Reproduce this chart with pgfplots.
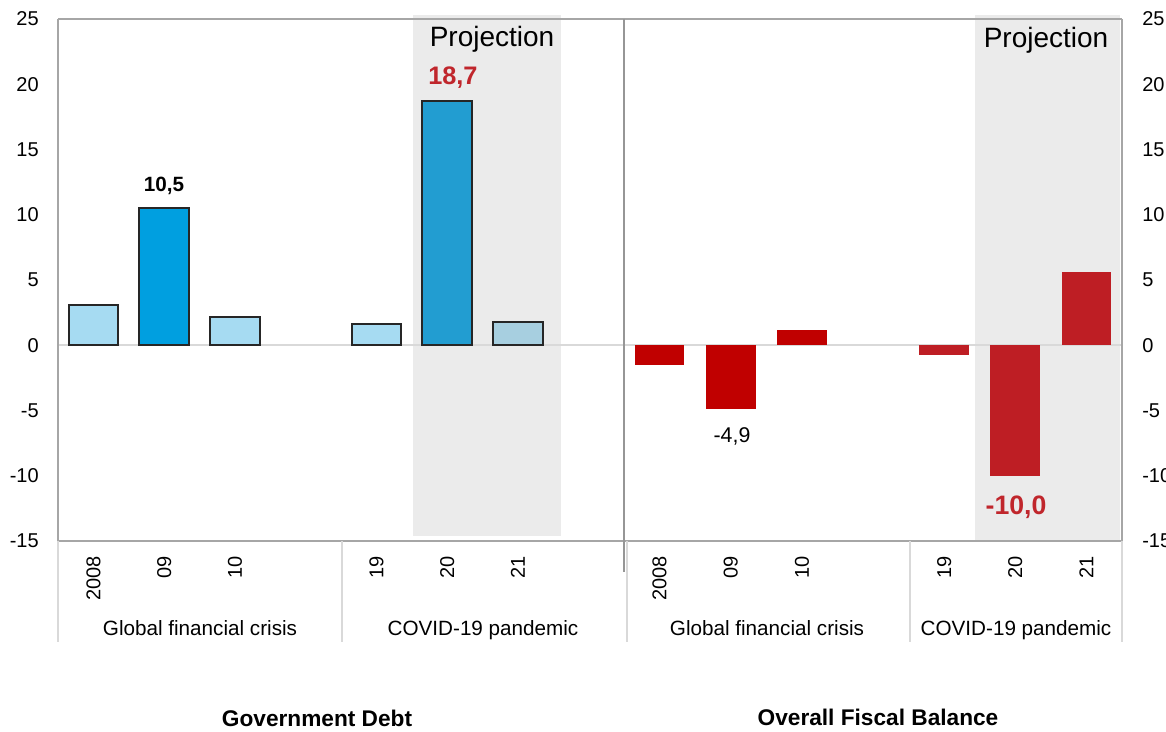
\documentclass[border=0pt]{standalone}
\usepackage{fontspec}
\setmainfont{Liberation Sans}
\usepackage{pgfplots}
\pgfplotsset{compat=1.18}
\definecolor{lblue}{RGB}{166,219,242}
\definecolor{mblue}{RGB}{0,159,224}
\definecolor{pblue}{RGB}{34,157,209}
\definecolor{gblue}{RGB}{167,207,224}
\definecolor{dred}{RGB}{192,0,0}
\definecolor{pred}{RGB}{190,30,36}
\definecolor{tred}{RGB}{192,38,44}
\definecolor{shadecol}{RGB}{235,235,235}
\definecolor{spine}{RGB}{166,166,166}
\definecolor{divid}{RGB}{150,150,150}
\definecolor{sep}{RGB}{217,217,217}
\definecolor{edge}{RGB}{38,38,38}
\pgfplotsset{
  panel/.style={
    scale only axis, height=391.5pt, ymin=-15, ymax=25,
    axis line style={draw=none}, major tick length=0pt,
    ytick={-15,-10,...,25}, yticklabels={-15,-10,-5,0,5,10,15,20,25},
    xtick={0,1,2,4,5,6}, xticklabels={2008,09,10,19,20,21},
    xtick pos=left,
    xticklabel style={rotate=90, anchor=east, inner sep=0pt},
    xticklabel shift=11.25pt,
    ticklabel style={font=\fontsize{15}{18}\selectfont, text=black},
    clip=false,
  },
  bb/.style={ybar, bar width=0.7, bar shift=0pt},
}
\begin{document}
\begin{tikzpicture}
\useasboundingbox (0pt,0pt) rectangle (874.5pt,548.25pt);
\clip (0pt,0pt) rectangle (874.5pt,548.25pt);
\begin{scope}[x=0.75pt,y=0.75pt]
\fill[shadecol] (413,195) rectangle (561,716);
\fill[shadecol] (975,190) rectangle (1120,716);
\draw[sep, line width=1.5pt] (58,386) -- (1122,386);
\end{scope}

\begin{axis}[panel, at={(43.5pt,142.5pt)}, anchor=south west, width=424.5pt,
  xmin=-0.5, xmax=7.5,
  ytick pos=left, yticklabel style={anchor=east, inner sep=0pt}, yticklabel shift=14.25pt]
  \addplot[bb, fill=lblue, draw=edge, line width=1.5pt] coordinates {(0,3.1)};
  \addplot[bb, fill=mblue, draw=edge, line width=1.5pt] coordinates {(1,10.5)};
  \addplot[bb, fill=lblue, draw=edge, line width=1.5pt] coordinates {(2,2.2)};
  \addplot[bb, fill=lblue, draw=edge, line width=1.5pt] coordinates {(4,1.6)};
  \addplot[bb, fill=pblue, draw=edge, line width=1.5pt] coordinates {(5,18.7)};
  \addplot[bb, fill=gblue, draw=edge, line width=1.5pt] coordinates {(6,1.75)};
\end{axis}

\begin{axis}[panel, at={(468pt,142.5pt)}, anchor=south west, width=373.5pt,
  xmin=-0.5, xmax=6.5,
  ytick pos=right, yticklabel style={anchor=west, inner sep=0pt}, yticklabel shift=15pt]
  \addplot[bb, fill=dred, draw=none] coordinates {(0,-1.5)};
  \addplot[bb, fill=dred, draw=none] coordinates {(1,-4.9)};
  \addplot[bb, fill=dred, draw=none] coordinates {(2,1.2)};
  \addplot[bb, fill=pred, draw=none] coordinates {(4,-0.75)};
  \addplot[bb, fill=pred, draw=none] coordinates {(5,-10.0)};
  \addplot[bb, fill=pred, draw=none] coordinates {(6,5.6)};
\end{axis}

\begin{scope}[x=0.75pt,y=0.75pt]
% frame lines
\draw[spine, line width=1.5pt] (58,190) -- (58,712);
\draw[spine, line width=1.2pt] (58,712) -- (1122,712);
\draw[spine, line width=1.5pt] (58,190) -- (1122,190);
\draw[spine, line width=1.5pt] (1122,190) -- (1122,712);
\draw[divid, line width=1.5pt] (624,159) -- (624,712);
\foreach \xx in {58,342,627,910,1122} \draw[sep, line width=1.2pt] (\xx,190) -- (\xx,89);

% annotations
\node[anchor=base, inner sep=0pt, font=\bfseries\fontsize{15.5}{18}\selectfont] at (164,539) {10,5};
\node[anchor=base, inner sep=0pt, font=\fontsize{21}{25}\selectfont] at (492,684) {Projection};
\node[anchor=base west, inner sep=0pt, text=tred, font=\bfseries\fontsize{19}{22}\selectfont] at (428,646) {18,7};
\node[anchor=base, inner sep=0pt, font=\fontsize{16}{19}\selectfont] at (732,288) {-4,9};
\node[anchor=base, inner sep=0pt, text=tred, font=\bfseries\fontsize{20}{24}\selectfont] at (1016,216) {-10,0};
\node[anchor=base, inner sep=0pt, font=\fontsize{21}{25}\selectfont] at (1046,683) {Projection};

\node[anchor=base, inner sep=0pt, font=\fontsize{15.5}{18}\selectfont] at (200,95) {Global financial crisis};
\node[anchor=base, inner sep=0pt, font=\fontsize{15.5}{18}\selectfont] at (483,95) {COVID-19 pandemic};
\node[anchor=base, inner sep=0pt, font=\fontsize{15.5}{18}\selectfont] at (767,95) {Global financial crisis};
\node[anchor=base, inner sep=0pt, font=\fontsize{15.5}{18}\selectfont] at (1016,95) {COVID-19 pandemic};

\node[anchor=base, inner sep=0pt, font=\bfseries\fontsize{17}{20}\selectfont] at (317,4) {Government Debt};
\node[anchor=base, inner sep=0pt, font=\bfseries\fontsize{17}{20}\selectfont] at (878,6) {Overall Fiscal Balance};
\end{scope}
\end{tikzpicture}
\end{document}
